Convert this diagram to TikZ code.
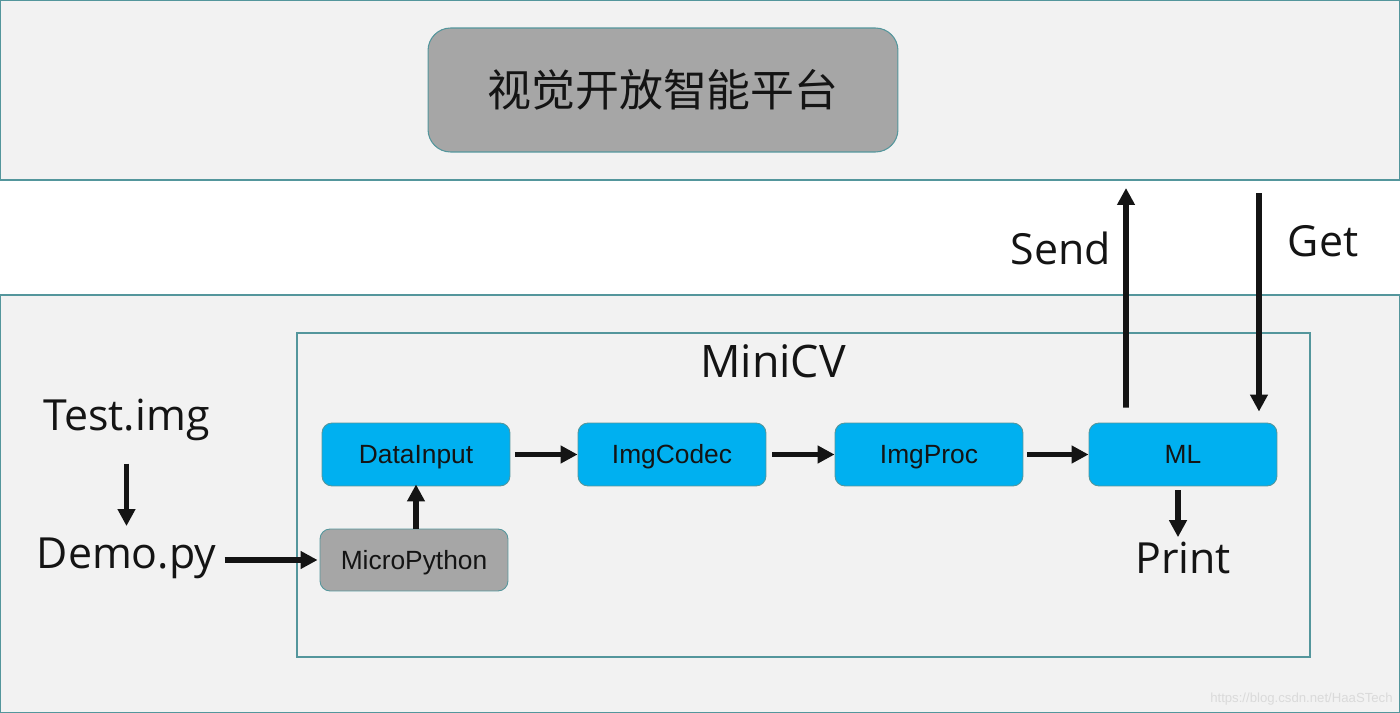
\documentclass[tikz,border=0pt]{standalone}
\usepackage{fontspec}
\setmainfont{Open Sans}
\newfontfamily\arialf{Liberation Sans}
\newfontfamily\cjk{Noto Sans CJK SC}
\usetikzlibrary{arrows.meta,calc}
\definecolor{tealc}{RGB}{84,150,156}
\definecolor{panel}{RGB}{242,242,242}
\definecolor{cvblue}{RGB}{0,176,240}
\definecolor{boxgray}{RGB}{166,166,166}
\definecolor{txt}{RGB}{20,20,20}
\definecolor{wm}{RGB}{218,218,218}
\tikzset{
  box/.style={draw=tealc, line width=0.5pt, rounded corners=0.2cm,
    minimum width=3.76cm, minimum height=1.26cm, inner sep=0pt,
    font=\arialf\fontsize{15}{18}\selectfont, text=txt,
    text height=10.8pt, text depth=0pt},
  bluebox/.style={box, fill=cvblue},
  graybox/.style={box, fill=boxgray},
  arr/.style={line width=3.3pt, draw=txt, -{Triangle[length=0.34cm, width=0.34cm]}},
  lbl/.style={font=\fontsize{24.4}{28}\selectfont, text=txt, inner sep=0pt},
  panelbox/.style={draw=tealc, line width=0.8pt, fill=panel}
}
\begin{document}
\begin{tikzpicture}[x=0.02cm,y=-0.02cm]
\fill[white] (0,0) rectangle (1400,713);
\useasboundingbox (0,0) rectangle (1400,713);
% panels
\draw[panelbox] (0.5,0.5) rectangle (1399.5,180);
\draw[panelbox] (0.5,295) rectangle (1399.5,712.5);
\draw[draw=tealc, line width=0.6pt, fill=panel] (297,333) rectangle (1310,657);
% top box
\node[draw=tealc, line width=0.6pt, fill=boxgray, rounded corners=0.45cm,
  minimum width=9.4cm, minimum height=2.48cm, inner sep=0pt,
  font=\cjk\fontsize{25}{30}\selectfont, text=txt] (top) at (663,90) {视觉开放智能平台};
% MiniCV title
\node[lbl, font=\fontsize{25.5}{30}\selectfont, anchor=base] (minicv) at (773,377) {MiniCV};
% boxes
\node[bluebox] (di) at (416,454.5) {DataInput};
\node[bluebox] (ic) at (672,454.5) {ImgCodec};
\node[bluebox] (ip) at (929,454.5) {ImgProc};
\node[bluebox] (ml) at (1183,454.5) {ML};
\node[graybox, minimum height=1.24cm] (mp) at (414,560) {MicroPython};
% labels
\node[lbl, anchor=base] (test) at (126.5,430) {Test.img};
\node[lbl, anchor=base] (demo) at (126.5,568) {Demo.py};
\node[lbl, anchor=base] (send) at (1061,264) {Send};
\node[lbl, anchor=base] (get) at (1323,256) {Get};
\node[lbl, anchor=base] (print) at (1183,573) {Print};
% watermark
\node[font=\arialf\fontsize{7.5}{9}\selectfont, text=wm, anchor=base east, inner sep=0pt] (wmk) at (1393,702) {https://blog.csdn.net/HaaSTech};
% connectors
\draw[arr] ([xshift=0.1cm]di.east) -- (ic.west);
\draw[arr] ([xshift=0.12cm]ic.east) -- (ip.west);
\draw[arr] ([xshift=0.08cm]ip.east) -- (ml.west);
\draw[arr] (mp.north -| di.south) -- ([yshift=0.04cm]di.south);
\draw[arr] ([xshift=0.16cm]demo.east |- mp.west) -- ([xshift=-0.04cm]mp.west);
\draw[arr, line width=2.8pt] ($(test.south)+(0,-0.46cm)$) -- ($(demo.north)+(0,0.22cm)$);
\draw[arr] ($(ml.south)+(-0.1cm,-0.08cm)$) -- ($(print.north)+(-0.1cm,0.08cm)$);
\coordinate (sendtop) at (1126,188);
\coordinate (getsrc) at (1259,193);
\draw[arr] ($(ml.north)+(-1.14cm,0.3cm)$) -- (sendtop);
\draw[arr] (getsrc) -- ($(ml.north)+(1.52cm,0.22cm)$);
\end{tikzpicture}
\end{document}
